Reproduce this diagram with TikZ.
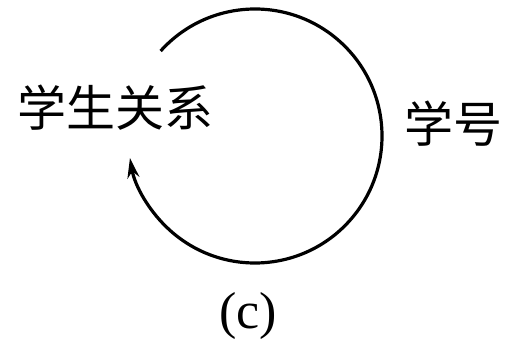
\documentclass[tikz,border=0pt]{standalone}
\usepackage{fontspec}
\setmainfont{Liberation Serif}
\newfontfamily\cjk{Noto Sans CJK SC}
\usetikzlibrary{arrows.meta}
\begin{document}
\begin{tikzpicture}[x=1pt,y=1pt,
  lbl/.style={inner sep=0pt, font=\cjk\fontsize{49}{52}\selectfont},
  captext/.style={inner sep=0pt, font=\fontsize{52}{56}\selectfont},
  loopline/.style={line width=3.2pt, -{Stealth[length=20pt,width=12pt]}}]
\useasboundingbox (0,0) rectangle (511,343);
\coordinate (c) at (255,207);
\node[lbl] (rel) at (115,235) {学生关系};
\node[lbl] (id) at (453,219) {学号};
\node[captext] (fig) at (248,27) {(c)};
\draw[loopline] (c) ++(138:127) arc[start angle=138, end angle=-170, radius=127];
\end{tikzpicture}
\end{document}
